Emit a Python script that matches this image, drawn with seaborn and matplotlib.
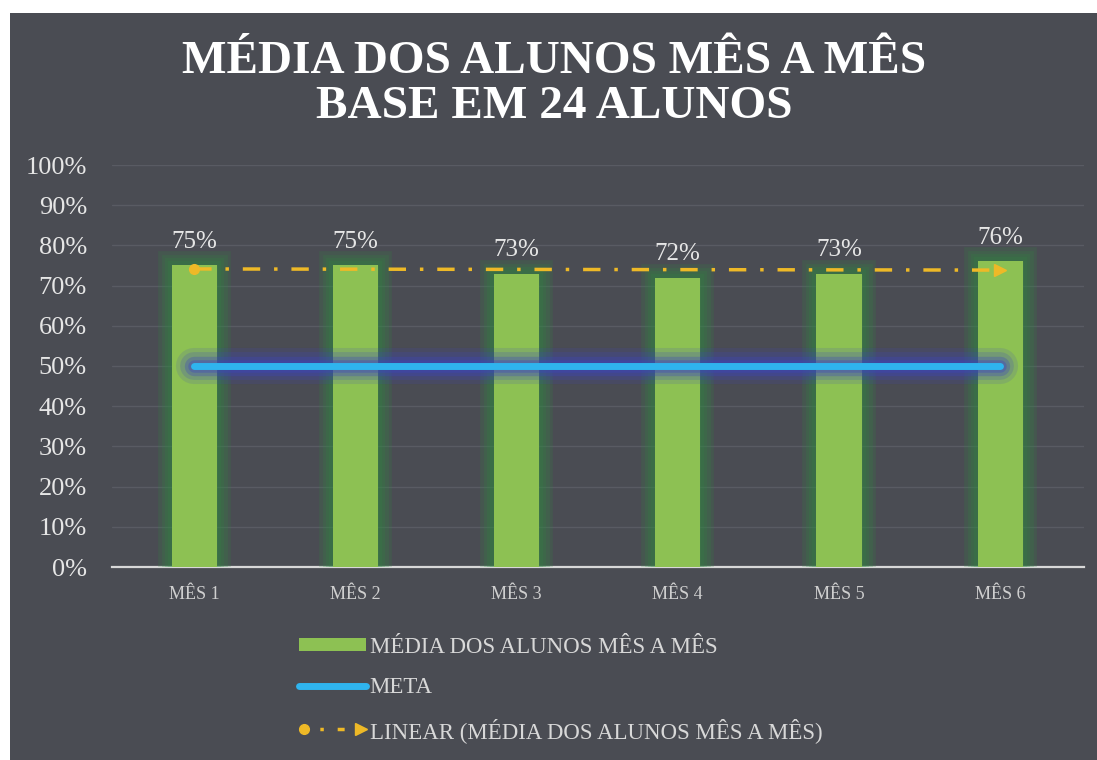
import numpy as np
import pandas as pd
import matplotlib; matplotlib.use("Agg"); import matplotlib.pyplot as plt
import matplotlib.patheffects as pe
from matplotlib.lines import Line2D
from matplotlib.patches import Rectangle
from matplotlib.legend_handler import HandlerBase
import seaborn as sns

# data
meses = ["MÊS 1", "MÊS 2", "MÊS 3", "MÊS 4", "MÊS 5", "MÊS 6"]
media = [75, 75, 73, 72, 73, 76]
meta = [50, 50, 50, 50, 50, 50]
yticks = [0, 10, 20, 30, 40, 50, 60, 70, 80, 90, 100]

BG = "#4a4c53"; GREEN = "#8dc153"; BLUE = "#2fb4ee"; YELLOW = "#eeb927"; TXT = "#e6e6e6"
sns.set_theme(style="dark", rc={"axes.facecolor": BG})
plt.rcParams["font.family"] = ["Liberation Serif", "DejaVu Serif"]

fig = plt.figure(figsize=(10.97, 7.6), dpi=100, facecolor="white")
fig.patches.append(Rectangle((10/1097, 0), 1, 1 - 13/760, transform=fig.transFigure,
                             facecolor=BG, edgecolor="none", zorder=-10))
ax = fig.add_axes([112/1097, 1 - 567/760, 972/1097, 402/760])
ax.set_facecolor(BG)

df = pd.DataFrame({"mes": meses, "media": media})
sns.barplot(data=df, x="mes", y="media", color=GREEN, width=0.28, saturation=1,
            linewidth=0, edgecolor="none", ax=ax, zorder=3)
# soft green glow around the bars
glow = [pe.Stroke(linewidth=w, foreground="#2f8a40", alpha=0.18) for w in (20, 15, 10, 6)]
for p in ax.patches:
    p.set_edgecolor("none")
    p.set_path_effects(glow + [pe.Normal()])
ax.bar_label(ax.containers[0], labels=[f"{v}%" for v in media], padding=9,
             fontsize=18, color=TXT)

xs = np.arange(len(meses))
# meta line with a blue glow
for lw, a in [(26, 0.15), (20, 0.2), (14, 0.3), (9, 0.35)]:
    ax.plot(xs, meta, color="#3d45c0", lw=lw, alpha=a, solid_capstyle="round", zorder=4)
sns.lineplot(x=xs, y=meta, color=BLUE, lw=5, ax=ax, zorder=5)

# linear trend of the monthly means
k, b = np.polyfit(xs, media, 1)
trend = k * xs + b
ax.plot(xs, trend, color=YELLOW, lw=2.5, ls=(0, (5, 4, 1, 4)), zorder=6)
ax.plot(xs[0], trend[0], "o", color=YELLOW, ms=7, zorder=6)
ax.plot(xs[-1], trend[-1], ">", color=YELLOW, ms=9, zorder=6)

ax.set_xlim(-0.51, 5.52); ax.set_ylim(0, 100)
ax.set_yticks(yticks); ax.set_yticklabels([f"{t}%" for t in yticks])
ax.grid(axis="y", color="#595b63", lw=1); ax.grid(axis="x", visible=False)
ax.tick_params(axis="y", labelsize=19, colors=TXT, pad=18, length=0)
ax.tick_params(axis="x", labelsize=13, colors="#cfcfcf", pad=14, length=0)
ax.set_xlabel(""); ax.set_ylabel("")
for s in ["top", "right", "left"]:
    ax.spines[s].set_visible(False)
ax.spines["bottom"].set_color("#d8d8d8"); ax.spines["bottom"].set_linewidth(1.6)

fig.text(0.505, 1 - 62/760, "MÉDIA DOS ALUNOS MÊS A MÊS", ha="center", va="center",
         fontsize=34, color="white", fontweight="bold")
fig.text(0.505, 1 - 107/760, "BASE EM 24 ALUNOS", ha="center", va="center",
         fontsize=34, color="white", fontweight="bold")

class TrendHandler(HandlerBase):
    def create_artists(self, legend, orig, xd, yd, w, h, fs, trans):
        y = h / 2 - yd
        ln = Line2D([-xd, -xd + w], [y, y], color=YELLOW, lw=2.5, ls=(0, (2, 4, 1, 4)), transform=trans)
        m0 = Line2D([-xd + 4], [y], marker="o", color=YELLOW, ms=7, transform=trans)
        m1 = Line2D([-xd + w - 4], [y], marker=">", color=YELLOW, ms=9, transform=trans)
        return [ln, m0, m1]

h_bar = Rectangle((0, 0), 1, 1, facecolor=GREEN, edgecolor="none")
h_meta = Line2D([], [], color=BLUE, lw=5)
h_trend = Line2D([], [], color=YELLOW)
leg = fig.legend([h_bar, h_meta, h_trend],
                 ["MÉDIA DOS ALUNOS MÊS A MÊS", "META", "LINEAR (MÉDIA DOS ALUNOS MÊS A MÊS)"],
                 handler_map={h_trend: TrendHandler()}, loc="upper left",
                 bbox_to_anchor=(278/1097, 1 - 616/760), frameon=False, fontsize=16.5,
                 labelcolor="#d8d8d8", handlelength=2.95, handleheight=0.5,
                 handletextpad=0.15, labelspacing=0.85)

fig.savefig("out.png", dpi=100, facecolor=fig.get_facecolor())
